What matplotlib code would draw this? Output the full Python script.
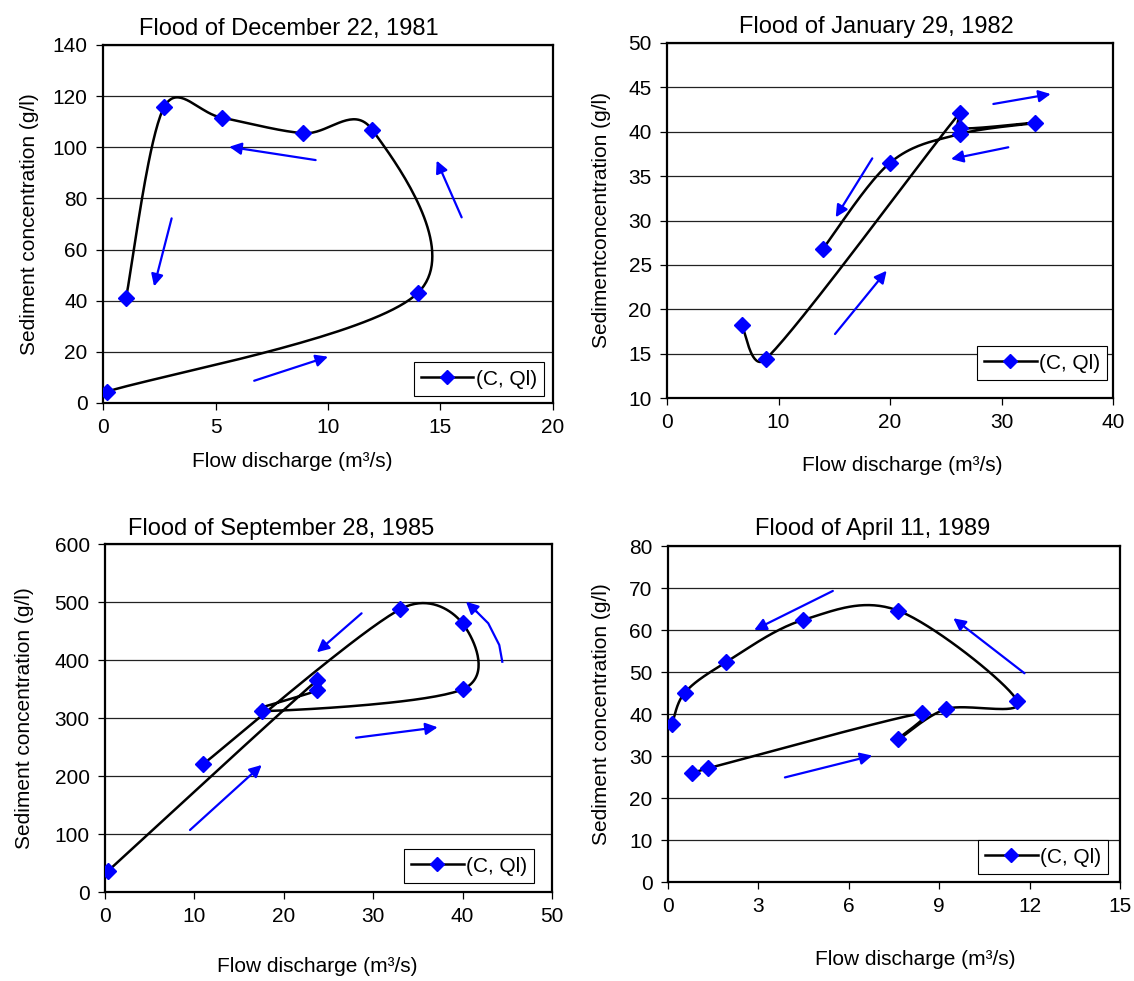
import numpy as np
import matplotlib
matplotlib.use('Agg')
import matplotlib.pyplot as plt

plt.rcParams['font.family'] = ['Liberation Sans', 'DejaVu Sans']

W, H = 1134, 981

# ---- data, points listed in time order ----
# flood of December 22, 1981
q1 = [0.16, 14.0, 11.97, 8.9, 5.27, 2.71, 1.02]
c1 = [4.4, 43.1, 106.8, 105.5, 111.6, 115.6, 40.9]
# flood of January 29, 1982
q2 = [6.7, 8.88, 26.28, 26.28, 33.0, 26.28, 20.0, 13.96]
c2 = [18.2, 14.4, 42.15, 40.4, 41.0, 39.75, 36.5, 26.75]
# flood of September 28, 1985
q3 = [0.37, 23.75, 23.75, 17.6, 40.0, 40.0, 33.0, 11.0]
c3 = [36.7, 365.5, 348.0, 312.0, 349.5, 463.0, 487.4, 220.7]
# flood of April 11, 1989
q4 = [0.81, 1.34, 8.44, 7.64, 9.23, 11.59, 7.64, 4.49, 1.92, 0.56, 0.14]
c4 = [26.0, 27.1, 40.2, 34.0, 41.2, 43.1, 64.6, 62.4, 52.3, 45.1, 37.6]

titles = ['Flood of December 22, 1981', 'Flood of January 29, 1982',
          'Flood of September 28, 1985', 'Flood of April 11, 1989']
ylabels = ['Sediment concentration (g/l)', 'Sedimentconcentration (g/l)',
           'Sediment concentration (g/l)', 'Sediment concentration (g/l)']
xlabel = 'Flow discharge (m³/s)'
leg_label = '(C, Ql)'

xlims = [(0, 20), (0, 40), (0, 50), (0, 15)]
ylims = [(0, 140), (10, 50), (0, 600), (0, 80)]
xsteps = [5, 10, 10, 3]
ysteps = [20, 5, 100, 10]

# direction arrows (tail x, tail y, head x, head y) in data units
arrows1 = [(6.72, 8.7, 10.0, 18.1), (15.94, 72.6, 14.83, 94.8),
           (9.45, 95.0, 5.61, 100.2), (3.05, 72.2, 2.27, 45.6)]
arrows2 = [(29.27, 43.13, 34.41, 44.25), (30.61, 38.25, 25.47, 36.93),
           (18.41, 37.0, 15.13, 30.36), (15.07, 17.21, 19.70, 24.34)]
arrows3 = [(9.51, 106.9, 17.53, 219.0), (28.08, 266.0, 37.21, 284.0),
           (28.7, 480.5, 23.7, 413.3)]
curve3_x = [44.44, 44.1, 42.87, 41.57, 40.38]
curve3_y = [397.0, 425.9, 463.3, 483.3, 500.5]
arrows4 = [(5.47, 69.3, 2.86, 60.0), (11.83, 49.7, 9.47, 62.8),
           (3.88, 24.9, 6.78, 30.1)]

# layout in pixels: left, top, right, bottom of plot area
boxes = [(103, 45, 553, 403), (667, 43, 1113, 398),
         (105, 544, 552, 892), (668, 546, 1120, 882)]
title_pos = [(289, 35), (876, 33), (281, 535), (873, 535)]
xlab_pos = [(292, 467), (902, 471), (317, 972), (915, 965)]
ylab_pos = [(30, 224), (601, 220), (25, 718), (601, 714)]
leg_anchor = [(544, 396), (1107, 380), (534, 883), (1108, 874)]


def excel_smooth(ax, x, y, n=40):
    # bezier smoothing like the spreadsheet "smoothed line", done in pixels
    pts = ax.transData.transform(np.column_stack([x, y]))
    p = np.vstack([pts[0], pts, pts[-1]])
    out = [pts[:1]]
    s = np.linspace(0, 1, n)[1:, None]
    for i in range(1, len(p) - 2):
        p0, p1, p2, p3 = p[i - 1], p[i], p[i + 1], p[i + 2]
        d12 = np.hypot(*(p2 - p1))
        t1 = (p2 - p0) / 6.0
        t2 = (p3 - p1) / 6.0
        l1 = np.hypot(*t1)
        l2 = np.hypot(*t2)
        if l1 > d12 / 2:
            t1 = t1 * (d12 / 2) / l1
        if l2 > d12 / 2:
            t2 = t2 * (d12 / 2) / l2
        b1 = p1 + t1
        b2 = p2 - t2
        seg = (1 - s)**3 * p1 + 3 * (1 - s)**2 * s * b1 + 3 * (1 - s) * s**2 * b2 + s**3 * p2
        out.append(seg)
    out = np.vstack(out)
    xy = ax.transData.inverted().transform(out)
    return xy[:, 0], xy[:, 1]


fig = plt.figure(figsize=(W / 100, H / 100), dpi=100)
fig.patch.set_facecolor('white')

data = [(q1, c1), (q2, c2), (q3, c3), (q4, c4)]
arrs = [arrows1, arrows2, arrows3, arrows4]

for k in range(4):
    l, t, r, b = boxes[k]
    ax = fig.add_axes([l / W, 1 - b / H, (r - l) / W, (b - t) / H])
    ax.set_xlim(*xlims[k])
    ax.set_ylim(*ylims[k])
    ax.set_xticks(np.arange(xlims[k][0], xlims[k][1] + 0.01, xsteps[k]))
    ax.set_yticks(np.arange(ylims[k][0], ylims[k][1] + 0.01, ysteps[k]))
    ax.yaxis.grid(True, color='#222222', lw=0.9)
    ax.set_axisbelow(True)
    for sp in ax.spines.values():
        sp.set_linewidth(1.6)
        sp.set_color('black')
    ax.tick_params(direction='out', length=5, width=0.9, labelsize=15, pad=6,
                   colors='black')

    x, y = data[k]
    sx, sy = excel_smooth(ax, x, y)
    ax.plot(sx, sy, color='black', lw=1.8, zorder=3)
    ax.plot(x, y, ls='none', marker='D', ms=8, color='blue', zorder=4)

    # legend entry
    ax.plot([], [], color='black', lw=1.8, marker='D', ms=7, mfc='blue',
            mec='blue', label=leg_label)
    lx, ly = leg_anchor[k]
    ax.legend(loc='lower right',
              bbox_to_anchor=((lx - l) / (r - l), (b - ly) / (b - t)),
              borderaxespad=0, fontsize=15, handlelength=2.5,
              frameon=True, fancybox=False, framealpha=1, edgecolor='black',
              borderpad=0.35, handletextpad=0.1)
    ax.get_legend().get_frame().set_linewidth(0.8)

    for (x0, y0, x1, y1) in arrs[k]:
        ax.annotate('', xy=(x1, y1), xytext=(x0, y0),
                    arrowprops=dict(arrowstyle='-|>', color='blue', lw=1.6,
                                    mutation_scale=18, shrinkA=0, shrinkB=0),
                    zorder=5)
    if k == 2:
        ax.plot(curve3_x[:-1], curve3_y[:-1], color='blue', lw=1.6, zorder=5)
        ax.annotate('', xy=(curve3_x[-1], curve3_y[-1]),
                    xytext=(curve3_x[-2], curve3_y[-2]),
                    arrowprops=dict(arrowstyle='-|>', color='blue', lw=1.6,
                                    mutation_scale=18, shrinkA=0, shrinkB=0),
                    zorder=5)

    tx, ty = title_pos[k]
    fig.text(tx / W, 1 - ty / H, titles[k], ha='center', va='baseline', fontsize=17)
    xx, xy_ = xlab_pos[k]
    fig.text(xx / W, 1 - xy_ / H, xlabel, ha='center', va='baseline', fontsize=15)
    yx, yy = ylab_pos[k]
    fig.text(yx / W, 1 - yy / H, ylabels[k], ha='center', va='center',
             rotation=90, fontsize=15)

fig.savefig('out.png', dpi=100, facecolor='white')
